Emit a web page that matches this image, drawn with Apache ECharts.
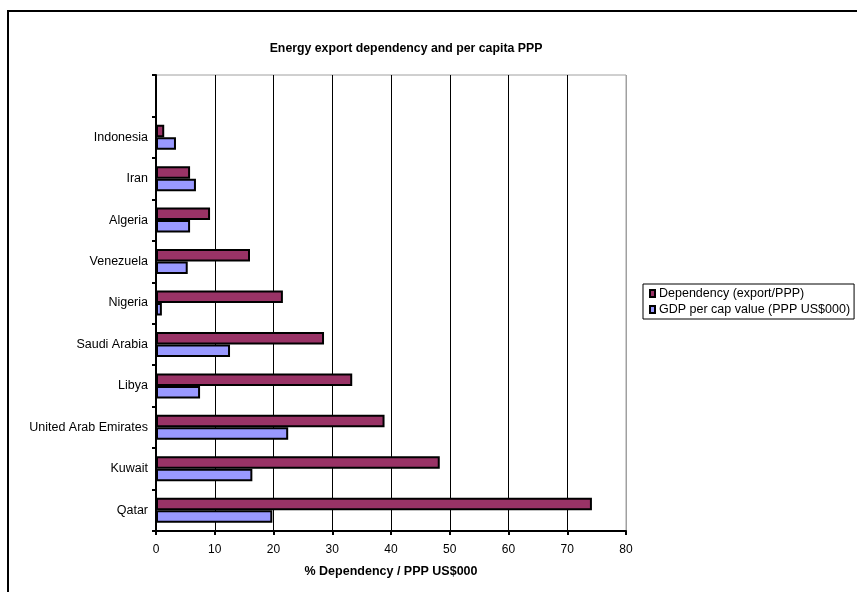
<!DOCTYPE html>
<html>
<head>
<meta charset="utf-8">
<script src="https://cdn.jsdelivr.net/npm/echarts@6/dist/echarts.min.js"></script>
<style>
  html, body { margin: 0; padding: 0; background: #fff; }
  #chart { width: 857px; height: 592px; }
</style>
</head>
<body>
<div id="chart"></div>
<script>
// Countries from bottom to top; the last slot is left empty as in the original sheet
const countries = ['Qatar', 'Kuwait', 'United Arab Emirates', 'Libya', 'Saudi Arabia',
  'Nigeria', 'Venezuela', 'Algeria', 'Iran', 'Indonesia', ''];
const dependency = [74.2, 48.3, 38.9, 33.4, 28.6, 21.6, 16.0, 9.2, 5.8, 1.4, null];
const gdpPerCap = [19.8, 16.4, 22.5, 7.5, 12.6, 1.0, 5.4, 5.8, 6.8, 3.4, null];
const xTicks = { min: 0, max: 80, step: 10 };

const FONT = '"Liberation Sans", Arial, sans-serif';
const chart = echarts.init(document.getElementById('chart'));

const splitColors = [];
for (let v = xTicks.min; v <= xTicks.max; v += xTicks.step) {
  splitColors.push(v === xTicks.max ? '#a0a0a0' : '#000');
}

chart.setOption({
  animation: false,
  backgroundColor: '#fff',
  textStyle: { fontFamily: FONT },
  title: {
    text: 'Energy export dependency and per capita PPP',
    left: 401,
    textAlign: 'center',
    top: 38,
    textStyle: { fontFamily: FONT, fontSize: 12.3, fontWeight: 'bold', color: '#000' }
  },
  graphic: [
    {
      type: 'rect',
      shape: { x: 8, y: 11, width: 900, height: 640 },
      style: { fill: 'none', stroke: '#000', lineWidth: 2 },
      silent: true
    }
  ],
  legend: {
    orient: 'vertical',
    left: 643,
    top: 284,
    padding: [3, 4, 3, 6],
    itemGap: 3,
    itemWidth: 5,
    itemHeight: 7,
    borderColor: '#000',
    borderWidth: 1,
    icon: 'rect',
    textStyle: { fontFamily: FONT, fontSize: 12.5, color: '#000', padding: [0, 0, 0, -1] },
    data: ['Dependency (export/PPP)', 'GDP per cap value (PPP US$000)']
  },
  grid: {
    left: 156,
    right: 231,
    top: 75,
    bottom: 61,
    show: true,
    borderColor: '#a0a0a0',
    borderWidth: 1,
    containLabel: false
  },
  xAxis: {
    type: 'value',
    min: xTicks.min,
    max: xTicks.max,
    interval: xTicks.step,
    name: '% Dependency / PPP US$000',
    nameLocation: 'middle',
    nameGap: 34,
    nameTextStyle: { fontFamily: FONT, fontSize: 12.5, fontWeight: 'bold', color: '#000' },
    axisLine: { show: true, lineStyle: { color: '#000', width: 2 } },
    axisTick: { show: true, length: 4, lineStyle: { color: '#000', width: 2 } },
    axisLabel: { fontFamily: FONT, fontSize: 12, color: '#000', margin: 13 },
    splitLine: { show: true, lineStyle: { color: splitColors, width: 1 } }
  },
  yAxis: {
    type: 'category',
    data: countries,
    axisLine: { show: true, lineStyle: { color: '#000', width: 2 } },
    axisTick: { show: true, length: 4, lineStyle: { color: '#000', width: 2 } },
    axisLabel: { fontFamily: FONT, fontSize: 12.5, color: '#000', margin: 8 },
    splitLine: { show: false }
  },
  series: [
    {
      name: 'Dependency (export/PPP)',
      type: 'bar',
      data: dependency,
      barWidth: 12.5,
      barGap: '0%',
      itemStyle: { color: '#993366', borderColor: '#000', borderWidth: 2 }
    },
    {
      name: 'GDP per cap value (PPP US$000)',
      type: 'bar',
      data: gdpPerCap,
      barWidth: 12.5,
      barGap: '0%',
      itemStyle: { color: '#9999ff', borderColor: '#000', borderWidth: 2 }
    }
  ]
});
</script>
</body>
</html>
